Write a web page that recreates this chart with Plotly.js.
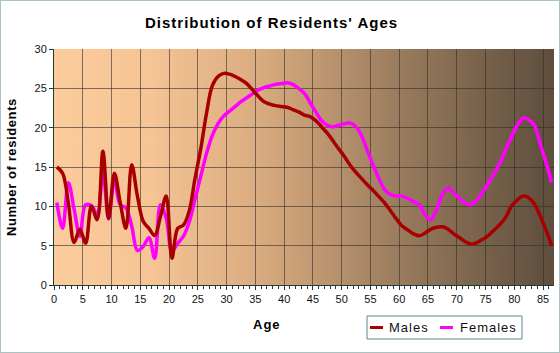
<!DOCTYPE html>
<html>
<head>
<meta charset="utf-8">
<script src="https://cdn.plot.ly/plotly-3.0.1.min.js"></script>
<style>
  html, body { margin: 0; padding: 0; background: #ffffff; overflow: hidden; }
  #wrap { position: relative; width: 560px; height: 353px; }
  #chart { width: 560px; height: 353px; }
  #frame { position: absolute; left: 0; top: 0; width: 560px; height: 353px; box-sizing: border-box;
           border: 1px solid #a9c2c2; pointer-events: none; }
  .gtitle { letter-spacing: 1px; }
  .ytitle { letter-spacing: 0.6px; }
  .annotation-text { letter-spacing: 1px; }
</style>
</head>
<body>
<div id="wrap"><div id="chart"></div><div id="frame"></div></div>
<script>
// ---- data ----
const ages = [0,1,2,3,4,5,6,7,8,9,10,11,12,13,14,15,16,17,18,19,20,21,22,23,24,25,26,27,28,29,
  30,31,32,33,34,35,36,37,38,39,40,41,42,43,44,45,46,47,48,49,50,51,52,53,54,55,56,57,58,59,
  60,61,62,63,64,65,66,67,68,69,70,71,72,73,74,75,76,77,78,79,80,81,82,83,84,85,86];

const males = [15.0,14.2,10.4,5.4,7.1,5.3,10.0,8.3,17.0,8.5,14.2,10.5,7.2,15.3,11.3,8.1,7.2,6.3,8.7,11.3,
  3.4,7.2,7.6,9.4,13.5,17.3,21.8,25.3,26.5,26.9,26.8,26.5,26.1,25.6,24.8,24.0,23.3,23.0,22.8,22.7,
  22.6,22.3,22.0,21.6,21.4,20.9,20.1,19.3,18.3,17.3,16.3,15.2,14.3,13.5,12.7,12.0,11.2,10.4,9.4,8.4,
  7.5,7.0,6.5,6.25,6.6,7.1,7.35,7.4,7.1,6.5,6.0,5.5,5.2,5.4,5.8,6.3,7.0,7.7,8.6,10.0,
  10.8,11.3,11.1,10.3,8.8,7.0,5.0];

const females = [10.5,7.2,13.0,9.6,6.2,10.2,10.1,9.0,14.2,8.4,13.4,10.2,9.8,7.5,4.4,4.9,6.0,3.4,10.2,8.5,
  4.3,5.3,6.2,8.0,10.9,13.8,16.7,19.0,20.5,21.5,22.1,22.7,23.3,23.8,24.3,24.8,25.1,25.3,25.5,25.6,
  25.7,25.5,25.0,24.4,23.2,22.0,20.9,20.3,20.1,20.3,20.5,20.6,20.1,18.9,17.0,15.2,13.5,12.1,11.5,11.3,
  11.3,11.0,10.6,10.2,8.9,8.3,9.6,11.5,12.3,11.7,11.0,10.4,10.2,10.8,11.8,13.0,14.2,15.5,17.2,18.8,
  20.3,21.2,21.0,20.3,18.0,15.6,13.0];

const seriesNames = ['Males', 'Females'];
const seriesColors = ['#a80000', '#ff00ff'];

// each yearly value is drawn at the middle of its year
const xMid = ages.map(a => a + 0.5);

// ---- plot-area gradient background ----
function gradientURL() {
  const c = document.createElement('canvas');
  c.width = 500; c.height = 4;
  const g = c.getContext('2d');
  const lg = g.createLinearGradient(0, 0, 500, 0);
  lg.addColorStop(0.00, '#fccc9c');
  lg.addColorStop(0.19, '#f6c495');
  lg.addColorStop(0.39, '#ddae82');
  lg.addColorStop(0.49, '#c89e76');
  lg.addColorStop(0.69, '#9a7c5e');
  lg.addColorStop(0.85, '#7a634c');
  lg.addColorStop(1.00, '#5e4d3d');
  g.fillStyle = lg;
  g.fillRect(0, 0, 500, 4);
  return c.toDataURL('image/png');
}

const FONT = 'Liberation Sans, Arial, Helvetica, sans-serif';
const txt = '#111111';

const traces = [
  { x: xMid, y: males, name: seriesNames[0], type: 'scatter', mode: 'lines',
    line: { color: seriesColors[0], width: 3.5, shape: 'spline', smoothing: 1 } },
  { x: xMid, y: females, name: seriesNames[1], type: 'scatter', mode: 'lines',
    line: { color: seriesColors[1], width: 3.5, shape: 'spline', smoothing: 1 } }
];
// males drawn on top, as in the reference
const drawOrder = [traces[1], traces[0]];

// ---- legend box (drawn in paper coordinates below the plot) ----
const PL = 54, PW = 500, PB = 285, PH = 236;      // plot area in px, for converting legend px to paper
const px2x = p => (p - PL) / PW;
const px2y = p => (PB - p) / PH;
const legendItems = [
  { name: seriesNames[0], color: seriesColors[0], sym: 370, text: 387 },
  { name: seriesNames[1], color: seriesColors[1], sym: 440, text: 458 }
];
const legendShapes = [
  { type: 'rect', xref: 'paper', yref: 'paper', x0: px2x(367), x1: px2x(522), y0: px2y(316), y1: px2y(339),
    line: { color: '#4f8f8f', width: 1 }, fillcolor: 'rgba(0,0,0,0)' }
].concat(legendItems.map(it => ({
  type: 'line', xref: 'paper', yref: 'paper', x0: px2x(it.sym), x1: px2x(it.sym + 13),
  y0: px2y(327.5), y1: px2y(327.5), line: { color: it.color, width: 3 }
})));
const legendTexts = legendItems.map(it => ({
  text: it.name, xref: 'paper', yref: 'paper', x: px2x(it.text), y: px2y(327.5),
  xanchor: 'left', yanchor: 'middle', showarrow: false, font: { family: FONT, size: 13, color: txt }
}));

const layout = {
  width: 560, height: 353,
  margin: { l: 54, r: 6, t: 49, b: 68 },
  paper_bgcolor: '#ffffff',
  plot_bgcolor: 'rgba(0,0,0,0)',
  font: { family: FONT, color: txt, size: 11 },
  title: { text: "<b>Distribution of Residents' Ages</b>", font: { family: FONT, size: 15, color: '#000' },
           x: 0.485, xanchor: 'center', y: 0.935, yanchor: 'middle' },
  showlegend: false,
  xaxis: {
    range: [0, 86.9], tickmode: 'linear', tick0: 0, dtick: 5,
    showgrid: true, gridcolor: 'rgba(50,45,40,0.6)', gridwidth: 1,
    showline: true, linecolor: '#1f3b3b', linewidth: 1, zeroline: false,
    ticks: 'outside', ticklen: 4, tickcolor: '#1f3b3b',
    minor: { dtick: 1, ticks: 'outside', ticklen: 3, tickcolor: '#1f3b3b', showgrid: false },
    tickfont: { family: FONT, size: 11, color: txt }, fixedrange: true
  },
  yaxis: {
    range: [0, 30], tickmode: 'linear', tick0: 0, dtick: 5,
    showgrid: true, gridcolor: 'rgba(50,45,40,0.6)', gridwidth: 1,
    showline: true, linecolor: '#1f3b3b', linewidth: 1, zeroline: false,
    ticks: 'outside', ticklen: 4, tickcolor: '#1f3b3b',
    tickfont: { family: FONT, size: 11, color: txt },
    title: { text: '<b>Number of residents</b>', font: { family: FONT, size: 13, color: '#000' }, standoff: 14 },
    fixedrange: true
  },
  shapes: legendShapes,
  annotations: [
    { text: '<b>Age</b>', xref: 'paper', yref: 'paper', x: px2x(267), y: px2y(324),
      xanchor: 'center', yanchor: 'middle', showarrow: false, font: { family: FONT, size: 13, color: '#000' } }
  ].concat(legendTexts),
  images: [
    { source: gradientURL(), xref: 'paper', yref: 'paper', x: 0, y: 1, sizex: 1, sizey: 1,
      xanchor: 'left', yanchor: 'top', sizing: 'stretch', layer: 'below' }
  ]
};

Plotly.newPlot('chart', drawOrder, layout, { displayModeBar: false, staticPlot: true });
</script>
</body>
</html>
